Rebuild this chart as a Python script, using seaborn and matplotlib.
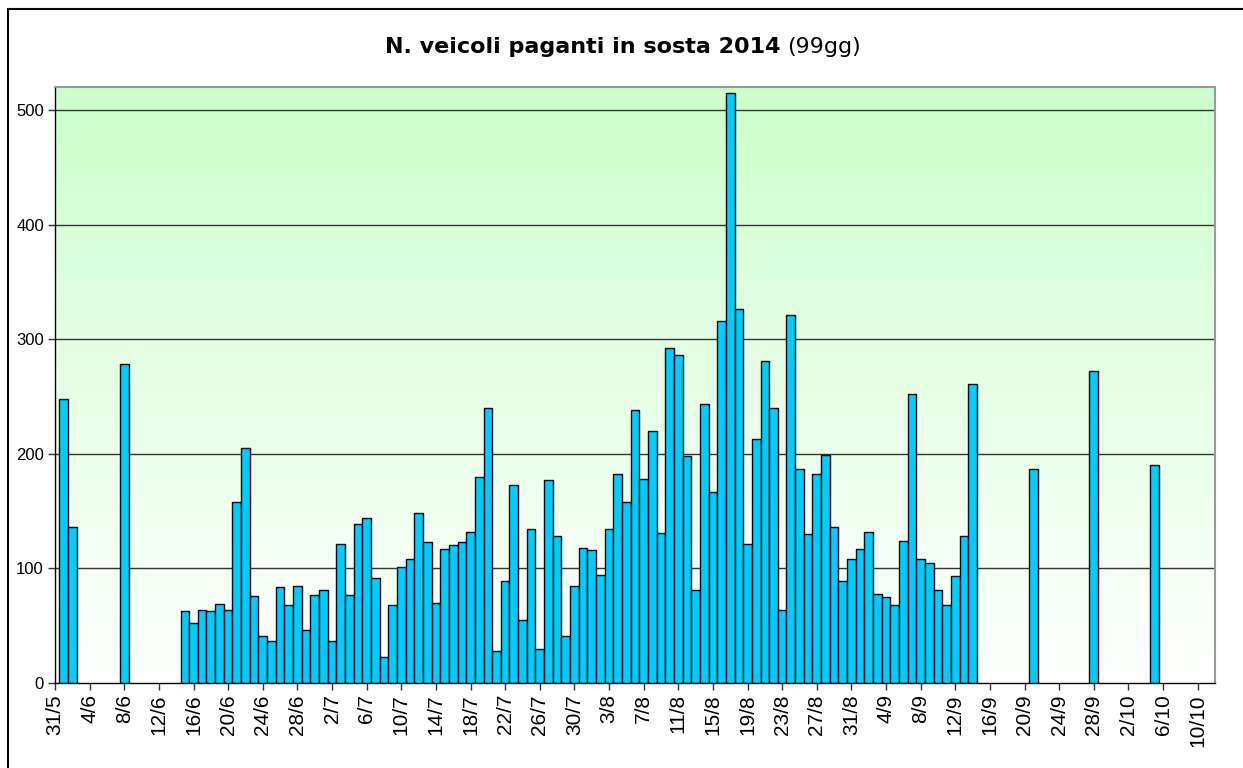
import pandas as pd
import numpy as np
import matplotlib
matplotlib.use("Agg")
import matplotlib.pyplot as plt
from matplotlib.colors import LinearSegmentedColormap
from matplotlib.patches import Rectangle
import seaborn as sns

# days with data (day/month, 2014)
first_days = ['1/6', '2/6', '8/6']
block_start = '15/6'   # continuous block 15/6 .. 14/9
block_end = '14/9'
last_days = ['21/9', '28/9', '5/10']

first_values = [248, 136, 278]
block_values = [63, 52, 64, 63, 69, 64, 158, 205, 76, 41,
                37, 84, 68, 85, 46, 77, 81, 37, 121, 77,
                139, 144, 92, 23, 68, 101, 108, 148, 123, 70,
                117, 120, 123, 132, 180, 240, 28, 89, 173, 55,
                134, 30, 177, 128, 41, 85, 118, 116, 94, 134,
                182, 158, 238, 178, 220, 131, 292, 286, 198, 81,
                243, 167, 316, 515, 326, 121, 213, 281, 240, 64,
                321, 187, 130, 182, 199, 136, 89, 108, 117, 132,
                78, 75, 68, 124, 252, 108, 105, 81, 68, 93,
                128, 261]
last_values = [187, 272, 190]

y_ticks = [0, 100, 200, 300, 400, 500]
axis_start = '31/5'
axis_end = '12/10'
last_tick = '10/10'
tick_every = 4


def to_date(s):
    d, m = s.split('/')
    return pd.Timestamp(2014, int(m), int(d))


start = to_date(axis_start)
dates = ([to_date(s) for s in first_days]
         + list(pd.date_range(to_date(block_start), to_date(block_end), freq='D'))
         + [to_date(s) for s in last_days])
df = pd.DataFrame({'date': dates, 'veicoli': first_values + block_values + last_values})
df['day'] = (df['date'] - start).dt.days

n_days = (to_date(axis_end) - start).days
tick_dates = pd.date_range(start, to_date(last_tick), freq=f'{tick_every}D')
tick_pos = [(d - start).days for d in tick_dates]
tick_labels = [f"{d.day}/{d.month}" for d in tick_dates]

sns.set_theme(style="white")
plt.rcParams['font.family'] = ['Liberation Sans', 'DejaVu Sans']

fig = plt.figure(figsize=(12.43, 7.68), dpi=100)
ax = fig.add_axes([55 / 1243, 1 - 683 / 768, (1215 - 55) / 1243, (683 - 87) / 768])

# green -> white gradient background
grad = LinearSegmentedColormap.from_list('g', ['#ffffff', '#ccffcc'])
ax.imshow(np.linspace(0, 1, 256).reshape(-1, 1), cmap=grad, origin='lower',
          extent=[0, n_days, 0, 520], aspect='auto', zorder=0)
for yv in y_ticks[1:]:
    ax.axhline(yv, color='#333333', lw=1, zorder=1)

sns.barplot(data=df, x='day', y='veicoli', native_scale=True, width=1.0,
            color='#00ccff', saturation=1, edgecolor='black', linewidth=1,
            ax=ax, zorder=3)

ax.set_xlim(0, n_days)
ax.set_ylim(0, 520)
ax.set_xticks(tick_pos)
ax.set_xticklabels(tick_labels, rotation=90, fontsize=15)
ax.set_yticks(y_ticks)
ax.set_yticklabels([str(v) for v in y_ticks], fontsize=12)
ax.tick_params(axis='both', direction='out', length=5, width=1, color='#333333',
               bottom=True, left=True, pad=3, labelcolor='black')
ax.set_xlabel('')
ax.set_ylabel('')
for side in ['left', 'bottom']:
    ax.spines[side].set_color('black')
    ax.spines[side].set_linewidth(1)
for side in ['top', 'right']:
    ax.spines[side].set_color('#999999')
    ax.spines[side].set_linewidth(1.5)

# title: bold part + normal part
fig.text(385 / 1243, 1 - 47 / 768, 'N. veicoli paganti in sosta 2014', fontsize=16,
         fontweight='bold', family='DejaVu Sans', color='black', ha='left', va='center')
fig.text(787 / 1243, 1 - 47 / 768, '(99gg)', fontsize=16,
         family='DejaVu Sans', color='black', ha='left', va='center')

# outer chart frame
fig.patches.append(Rectangle((8 / 1243, -0.05), 1.1, 1 - 9 / 768 + 0.05,
                             transform=fig.transFigure, fill=False,
                             edgecolor='black', lw=1.5))

fig.savefig('out.png', dpi=100)
